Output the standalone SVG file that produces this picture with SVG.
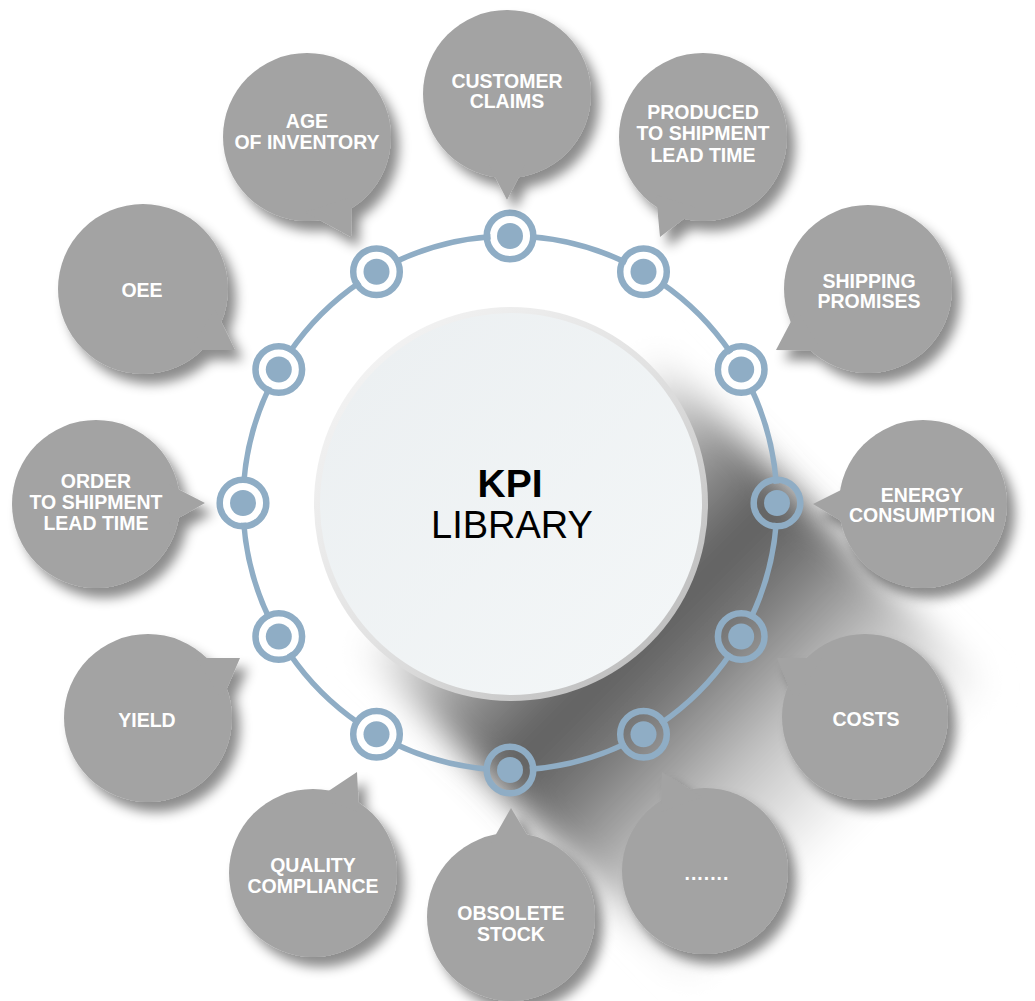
<svg xmlns="http://www.w3.org/2000/svg" width="1035" height="1001" viewBox="0 0 1035 1001">
<defs>
<style>
.bub{fill:#a3a3a3}
.lbl{font-family:"Liberation Sans",Arial,sans-serif;font-weight:bold;font-size:19.5px;fill:#fff;text-anchor:middle}
.ring{fill:none;stroke:#8fadc5;stroke-width:5.5}
.no{fill:none;stroke:#8fadc5;stroke-width:6.5}
.ni{fill:#8fadc5}
</style>
<filter id="ds" x="-30%" y="-30%" width="170%" height="170%"><feDropShadow dx="8" dy="10" stdDeviation="6" flood-color="#000" flood-opacity="0.45"/></filter>
<filter id="blur" x="-30%" y="-30%" width="160%" height="160%"><feGaussianBlur stdDeviation="16"/></filter>
<linearGradient id="sh" gradientUnits="userSpaceOnUse" x1="420" y1="413" x2="845" y2="838"><stop offset="0.2" stop-color="#ffffff"/><stop offset="0.4" stop-color="#909090"/><stop offset="0.52" stop-color="#5e5e5e"/><stop offset="0.62" stop-color="#787878"/><stop offset="0.8" stop-color="#c4c4c4"/><stop offset="1" stop-color="#ffffff"/></linearGradient>
<linearGradient id="rim" x1="0" y1="0" x2="1" y2="1"><stop offset="0" stop-color="#f8f8f8"/><stop offset="0.5" stop-color="#e2e2e2"/><stop offset="1" stop-color="#b2b2b2"/></linearGradient>
<linearGradient id="face" x1="0" y1="0" x2="1" y2="1"><stop offset="0" stop-color="#ebeff1"/><stop offset="1" stop-color="#f4f7f8"/></linearGradient>
</defs>
<rect width="1035" height="1001" fill="#fff"/>
<g id="center-shadow" filter="url(#blur)" fill="url(#sh)">
<circle cx="513" cy="506" r="210"/>
<path d="M661,357 L991,687 L694,984 L364,654 Z"/>
</g>
<g id="connectors">
<circle class="ring" cx="510" cy="503" r="267" stroke-dasharray="99.80 40" stroke-dashoffset="119.80"/>
</g>
<g id="ring-nodes">
<g id="p0"><circle class="no" cx="777" cy="503" r="23.3"/><circle class="ni" cx="777" cy="503" r="13"/></g>
<g id="p30"><circle class="no" cx="741.2" cy="636.5" r="23.3"/><circle class="ni" cx="741.2" cy="636.5" r="13"/></g>
<g id="p60"><circle class="no" cx="643.5" cy="734.2" r="23.3"/><circle class="ni" cx="643.5" cy="734.2" r="13"/></g>
<g id="p90"><circle class="no" cx="510" cy="770" r="23.3"/><circle class="ni" cx="510" cy="770" r="13"/></g>
<g id="p120"><circle class="no" cx="376.5" cy="734.2" r="23.3"/><circle class="ni" cx="376.5" cy="734.2" r="13"/></g>
<g id="p150"><circle class="no" cx="278.8" cy="636.5" r="23.3"/><circle class="ni" cx="278.8" cy="636.5" r="13"/></g>
<g id="p180"><circle class="no" cx="243" cy="503" r="23.3"/><circle class="ni" cx="243" cy="503" r="13"/></g>
<g id="p210"><circle class="no" cx="278.8" cy="369.5" r="23.3"/><circle class="ni" cx="278.8" cy="369.5" r="13"/></g>
<g id="p240"><circle class="no" cx="376.5" cy="271.8" r="23.3"/><circle class="ni" cx="376.5" cy="271.8" r="13"/></g>
<g id="p270"><circle class="no" cx="510" cy="236" r="23.3"/><circle class="ni" cx="510" cy="236" r="13"/></g>
<g id="p300"><circle class="no" cx="643.5" cy="271.8" r="23.3"/><circle class="ni" cx="643.5" cy="271.8" r="13"/></g>
<g id="p330"><circle class="no" cx="741.2" cy="369.5" r="23.3"/><circle class="ni" cx="741.2" cy="369.5" r="13"/></g>
</g>
<g id="kpi-library">
<circle cx="511" cy="504" r="197" fill="url(#rim)"/>
<circle cx="511" cy="504" r="191" fill="url(#face)"/>
<text x="510" y="497" font-family="'Liberation Sans',Arial,sans-serif" font-weight="bold" font-size="39" fill="#000" text-anchor="middle">KPI</text>
<text x="512" y="538" font-family="'Liberation Sans',Arial,sans-serif" font-size="38" fill="#000" text-anchor="middle">LIBRARY</text>
</g>
<g id="customer-claims">
<g filter="url(#ds)"><circle class="bub" cx="507" cy="94" r="84"/><polygon class="bub" points="489,165 507,200 525,165"/></g>
<text class="lbl" x="507" y="88">CUSTOMER</text><text class="lbl" x="507" y="108">CLAIMS</text>
</g>
<g id="produced-to-shipment">
<g filter="url(#ds)"><circle class="bub" cx="703" cy="137" r="84"/><polygon class="bub" points="656,195 660,237 698,208"/></g>
<text class="lbl" x="703" y="119">PRODUCED</text><text class="lbl" x="703" y="140">TO SHIPMENT</text><text class="lbl" x="703" y="162">LEAD TIME</text>
</g>
<g id="shipping-promises">
<g filter="url(#ds)"><circle class="bub" cx="868" cy="289" r="84"/><polygon class="bub" points="797,310 776,350 822,351"/></g>
<text class="lbl" x="869" y="288">SHIPPING</text><text class="lbl" x="869" y="308">PROMISES</text>
</g>
<g id="energy-consumption">
<g filter="url(#ds)"><circle class="bub" cx="923" cy="504" r="84"/><polygon class="bub" points="853,484 813,504 853,528"/></g>
<text class="lbl" x="922" y="502">ENERGY</text><text class="lbl" x="922" y="522">CONSUMPTION</text>
</g>
<g id="costs">
<g filter="url(#ds)"><circle class="bub" cx="865" cy="717" r="83"/><polygon class="bub" points="777,658 822,658 795,701"/></g>
<text class="lbl" x="866" y="726">COSTS</text>
</g>
<g id="more">
<g filter="url(#ds)"><circle class="bub" cx="705" cy="871" r="83"/><polygon class="bub" points="662,772 702,797 661,812"/></g>
<text class="lbl" x="707" y="880" letter-spacing="1">.......</text>
</g>
<g id="obsolete-stock">
<g filter="url(#ds)"><circle class="bub" cx="511" cy="917" r="84"/><polygon class="bub" points="491,843 511,808 532,843"/></g>
<text class="lbl" x="511" y="920">OBSOLETE</text><text class="lbl" x="511" y="941">STOCK</text>
</g>
<g id="quality-compliance">
<g filter="url(#ds)"><circle class="bub" cx="313" cy="873" r="84"/><polygon class="bub" points="357,772 318,798 359,812"/></g>
<text class="lbl" x="313" y="872">QUALITY</text><text class="lbl" x="313" y="893">COMPLIANCE</text>
</g>
<g id="yield">
<g filter="url(#ds)"><circle class="bub" cx="148" cy="718" r="84"/><polygon class="bub" points="240,658 196,658 222,700"/></g>
<text class="lbl" x="147" y="727">YIELD</text>
</g>
<g id="order-to-shipment">
<g filter="url(#ds)"><circle class="bub" cx="96" cy="504" r="84"/><polygon class="bub" points="205,503 166,483 166,525"/></g>
<text class="lbl" x="96" y="488">ORDER</text><text class="lbl" x="96" y="509">TO SHIPMENT</text><text class="lbl" x="96" y="530">LEAD TIME</text>
</g>
<g id="oee">
<g filter="url(#ds)"><circle class="bub" cx="143" cy="289" r="85"/><polygon class="bub" points="235,350 215,309 190,350"/></g>
<text class="lbl" x="142" y="297">OEE</text>
</g>
<g id="age-of-inventory">
<g filter="url(#ds)"><circle class="bub" cx="307" cy="137" r="84"/><polygon class="bub" points="351,237 352,197 305,212"/></g>
<text class="lbl" x="307" y="128">AGE</text><text class="lbl" x="307" y="149">OF INVENTORY</text>
</g>
</svg>
